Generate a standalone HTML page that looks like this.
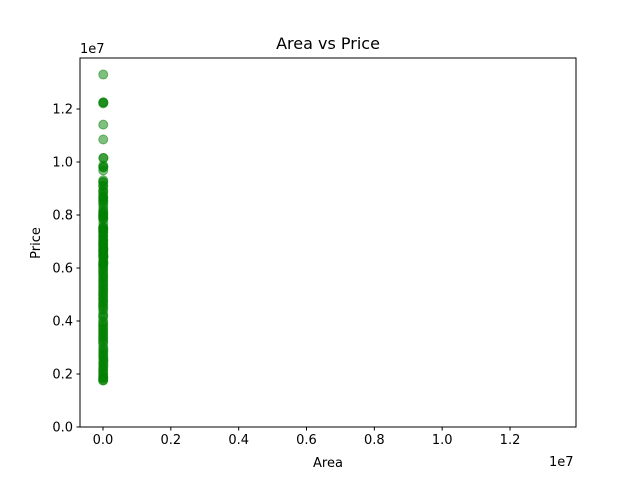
<!DOCTYPE html>
<html><head><meta charset="utf-8"><style>
body{margin:0;background:#fff;}
svg{display:block;font-family:"DejaVu Sans","Liberation Sans",sans-serif;}
</style></head><body>
<svg id="chart" width="640" height="480">
<rect width="640" height="480" fill="#fff"/>
<g id="points"></g>
<rect x="80" y="58" width="496" height="369" fill="none" stroke="#000" stroke-width="1"/>
<g id="axes"></g>
<text x="328" y="49" font-size="16" text-anchor="middle">Area vs Price</text>
<text x="328" y="467" font-size="13" text-anchor="middle">Area</text>
<text x="0" y="0" font-size="13" text-anchor="middle" transform="translate(40,243) rotate(-90)">Price</text>
<text x="80" y="53" font-size="13">1e7</text>
<text x="549" y="466" font-size="13">1e7</text>
</svg>
<script>
const areas = [7420,8960,9960,7500,7420,7500,8580,16200,8100,5750,13200,6000,6550,3500,7800,6000,6600,8500,4600,6420,4320,7155,8050,4560,8800,6540,6000,8875,7950,5500,7475,7000,4880,5960,6840,7000,7482,9000,6000,6000,6550,6360,6480,6000,6000,6000,6600,4300,7440,7440,6325,6000,5150,6000,6000,11440,9000,7680,6000,6000,8880,6240,6360,11175,8880,13200,7700,6000,12090,6000,4000,6000,5020,6600,4040,4260,6420,6500,5700,6000,3500,4500,3000,2400,3600,3000,4000,3640,2650,3180,2910,3850,3600,2275,3000,2430];
const prices = [13300000,12250000,12250000,12215000,11410000,10850000,10150000,10150000,9870000,9800000,9800000,9681000,9310000,9240000,9240000,9100000,9100000,8960000,8890000,8855000,8750000,8680000,8645000,8575000,8540000,8463000,8400000,8295000,8190000,8120000,8080940,8043000,7980000,7962500,7910000,7875000,7840000,7700000,7560000,7525000,7490000,7455000,7420000,7350000,7343000,7245000,7210000,7140000,7070000,7035000,7000000,6930000,6895000,6860000,6790000,6755000,6720000,6685000,6650000,6615000,6580000,6510000,6475000,6440000,6419000,6405000,6300000,6230000,6195000,6160000,6125000,6090000,6020000,5950000,5880000,5810000,5740000,5600000,5530000,5460000,5250000,5110000,4970000,4830000,4690000,4550000,4410000,4270000,4130000,3990000,3850000,3710000,3570000,3430000,3290000,3150000];
const extraPrices = [3010000,2940000,2870000,2800000,2730000,2660000,2590000,2520000,2450000,2380000,2310000,2240000,2170000,2100000,2030000,1960000,1890000,1855000,1820000,1767150,1750000,4200000,4480000,4620000,4760000,4900000,5040000,5180000,5320000,5390000,5670000,3920000,3780000,3640000,3500000,3360000,3220000];
const xTicks = [0,0.2e7,0.4e7,0.6e7,0.8e7,1.0e7,1.2e7];
const xTickLabels = ["0.0","0.2","0.4","0.6","0.8","1.0","1.2"];
const yTicks = [0,0.2e7,0.4e7,0.6e7,0.8e7,1.0e7,1.2e7];
const yTickLabels = ["0.0","0.2","0.4","0.6","0.8","1.0","1.2"];

const xMin=-0.0678e7, xMax=1.3945e7, yMin=0, yMax=1.3925e7;
const L=80,R=576,T=58,B=427;
const sx=v=>L+(v-xMin)/(xMax-xMin)*(R-L);
const sy=v=>B-(v-yMin)/(yMax-yMin)*(B-T);
const NS="http://www.w3.org/2000/svg";
const pts=document.getElementById('points');
const allP=prices.concat(extraPrices);
allP.forEach((p,i)=>{
  const c=document.createElementNS(NS,'circle');
  c.setAttribute('cx',sx(areas[i%areas.length]));
  c.setAttribute('cy',sy(p));
  c.setAttribute('r',4.5);
  c.setAttribute('fill','green');
  c.setAttribute('fill-opacity','0.5');
  c.setAttribute('stroke','green');
  c.setAttribute('stroke-opacity','0.5');
  
  
  pts.appendChild(c);
});
const ax=document.getElementById('axes');
xTicks.forEach((t,i)=>{
  const x=sx(t);
  const l=document.createElementNS(NS,'line');
  l.setAttribute('x1',x);l.setAttribute('x2',x);l.setAttribute('y1',B);l.setAttribute('y2',B+3.5);
  l.setAttribute('stroke','#000');
  
  
  ax.appendChild(l);
  const tx=document.createElementNS(NS,'text');
  tx.setAttribute('x',x);tx.setAttribute('y',B+17);tx.setAttribute('font-size','13');tx.setAttribute('text-anchor','middle');
  tx.textContent=xTickLabels[i];
  
  
  ax.appendChild(tx);
});
yTicks.forEach((t,i)=>{
  const y=sy(t);
  const l=document.createElementNS(NS,'line');
  l.setAttribute('x1',L-3.5);l.setAttribute('x2',L);l.setAttribute('y1',y);l.setAttribute('y2',y);
  l.setAttribute('stroke','#000');
  
  
  ax.appendChild(l);
  const tx=document.createElementNS(NS,'text');
  tx.setAttribute('x',L-7);tx.setAttribute('y',y+4.5);tx.setAttribute('font-size','13');tx.setAttribute('text-anchor','end');
  tx.textContent=yTickLabels[i];
  
  
  ax.appendChild(tx);
});
</script>
</body></html>
